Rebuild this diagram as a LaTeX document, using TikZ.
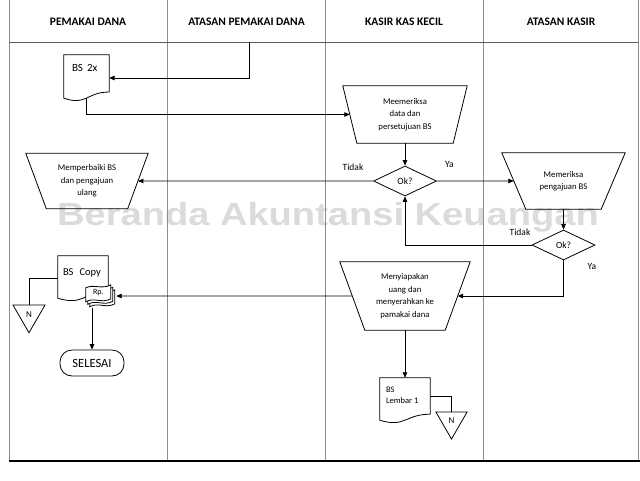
\documentclass[tikz,border=0pt]{standalone}
\usepackage{fontspec}
\setmainfont{Carlito}
\newfontfamily\wmfont{Liberation Sans}
\usetikzlibrary{shapes.geometric,arrows.meta,calc}
\newcommand{\docoutline}[1]{%
  \draw[docline] (#1.north west) -- (#1.north east) -- ($(#1.north east)!0.802!(#1.south east)$) .. controls ($(#1.north)!0.802!(#1.south)$) and ($(#1.north)!1.107!(#1.south)$) .. ($(#1.north west)!0.934!(#1.south west)$) -- cycle;}
\newcommand{\billpath}[2]{%
  \draw[docline, fill=white] (#1,#2+3) .. controls (#1+8,#2-1) and (#1+16,#2+5) .. (#1+25,#2) -- (#1+25,#2+14) .. controls (#1+16,#2+19) and (#1+8,#2+12) .. (#1,#2+17) -- cycle;}
\newcommand{\trapout}[2]{%
  \coordinate (#1-br) at ($(#1.south east)+(-#2pt,0pt)$);
  \coordinate (#1-bl) at ($(#1.south west)+(#2pt,0pt)$);
  \draw[docline] (#1.north west) -- (#1.north east) -- (#1-br) -- (#1-bl) -- cycle;
  \coordinate (#1-R) at ($(#1.north east)!0.5!(#1-br)$);
  \coordinate (#1-L) at ($(#1.north west)!0.5!(#1-bl)$);}
\begin{document}
\begin{tikzpicture}[x=1pt, y=-1pt,
 lane/.style={draw=black!45, line width=0.8pt},
 flow/.style={draw, line width=0.8pt, -{Triangle[length=5.5pt,width=4.5pt]}},
 conn/.style={draw, line width=0.8pt},
 docline/.style={draw, line width=0.8pt},
 hdr/.style={font=\fontsize{11.5}{13}\selectfont\bfseries, inner sep=0pt},
 proc/.style={rectangle, inner sep=0pt, font=\fontsize{8.7}{12.5}\selectfont, align=center},
 dec/.style={diamond, draw, line width=0.8pt, minimum width=63pt, minimum height=30pt, inner sep=0pt, font=\fontsize{9.5}{11}\selectfont},
 lbl/.style={font=\fontsize{9.5}{11}\selectfont, inner sep=0pt},
 tri/.style={regular polygon, regular polygon sides=3, shape border rotate=180, draw, line width=0.8pt, inner sep=0pt, font=\fontsize{9}{10}\selectfont},
 term/.style={rectangle, rounded corners=12pt, draw, line width=0.8pt, minimum width=64pt, minimum height=26pt, font=\fontsize{12.5}{14}\selectfont},
 docbox/.style={rectangle, inner sep=0pt},
 wm/.style={text=black!14, font=\wmfont\bfseries\fontsize{32}{34}\selectfont, inner sep=0pt}
]
\useasboundingbox (0,0) rectangle (640,480);
% watermark
\node[wm] (wm) at (328,217) {\scalebox{1.19}[1]{Beranda Akuntansi Keuangan}};
% lanes
\draw[lane] (9,0) -- (9,461);
\draw[lane] (167,0) -- (167,461);
\draw[lane] (325,0) -- (325,461);
\draw[lane] (483,0) -- (483,461);
\draw[lane] (638,0) -- (638,461);
\draw[draw=black!65, line width=0.8pt] (9,42) -- (638,42);
\draw[black, line width=1.3pt] (9,461) -- (640,461);
% headers
\node[hdr] (h1) at (88,22) {PEMAKAI DANA};
\node[hdr] (h2) at (246.5,22) {ATASAN PEMAKAI DANA};
\node[hdr] (h3) at (404,22) {KASIR KAS KECIL};
\node[hdr] (h4) at (561,22) {ATASAN KASIR};
% BS 2x
\node[docbox] (d1) at (86.5,78) {\parbox[t][46pt][t]{45pt}{\fontsize{11}{13}\selectfont\hspace*{8pt}\rule{0pt}{16.5pt}BS\hspace{4pt}2x}};
\docoutline{d1}
\coordinate (src) at (249,42);
\draw[flow] (src) |- (d1);
% Meemeriksa
\node[proc, minimum width=124pt, minimum height=57pt] (t1) at (405,114.5) {Meemeriksa\\data dan\\persetujuan BS};
\trapout{t1}{14}
\draw[flow] ($(d1.north)!0.933!(d1.south)$) |- (t1-L);
\node[dec] (k1) at (405,181) {Ok?};
\draw[flow] (t1) -- (k1);
\node[proc, minimum width=122pt, minimum height=55pt] (t2) at (87,181) {Memperbaiki BS\\dan pengajuan\\ulang};
\trapout{t2}{20.5}
\node[proc, minimum width=123pt, minimum height=56pt] (t3) at (563.5,181) {Memeriksa\\pengajuan BS};
\trapout{t3}{24}
\draw[flow] (k1) -- (t2-R);
\draw[flow] (k1) -- (t3-L);
\node[lbl] (tidak1) at (353,167) {Tidak};
\node[lbl] (ya1) at (449.5,164) {Ya};
\node[dec] (k2) at (563.5,245) {Ok?};
\draw[flow] (t3) -- (k2);
\node[lbl] (tidak2) at (520,232) {Tidak};
\node[lbl] (ya2) at (592,266) {Ya};
\draw[flow] (k2) -| (k1);
\node[proc, minimum width=130pt, minimum height=68pt] (t4) at (405,296) {Menyiapakan\\uang dan\\menyerahkan ke\\pamakai dana};
\trapout{t4}{25}
\draw[flow] (k2) |- (t4-R);
% BS Copy + Rp
\node[docbox] (d2) at (83,278.5) {\parbox[t][45pt][t]{50pt}{\fontsize{10.5}{12}\selectfont\hspace*{5pt}\rule{0pt}{19.5pt}BS\hspace{6pt}Copy}};
\docoutline{d2}
\node[docbox, minimum width=30pt, minimum height=24pt] (r1) at (101,296) {};
\begin{scope}[shift={(r1.north west)}]
\billpath{4}{6}
\billpath{2}{3.5}
\billpath{0}{1}
\node[font=\fontsize{8}{9}\selectfont, inner sep=0pt] (rp) at (12.5,9) {Rp.};
\end{scope}
\draw[flow] (t4-L) -- (r1);
\node[term] (s1) at (92,363) {SELESAI};
\draw[flow] (s1.north |- r1.south) -- (s1);
\node[tri, minimum size=37pt] (n1) at (29,314.25) {N};
\draw[conn] (d2.west) -| (n1);
% BS Lembar 1
\node[docbox] (d3) at (405,400.5) {\parbox[t][45pt][t]{50pt}{\fontsize{8.5}{11}\selectfont\hspace*{6pt}\rule{0pt}{14pt}BS\\\hspace*{6pt}Lembar 1}};
\docoutline{d3}
\draw[flow] (t4) -- (d3);
\node[tri, minimum size=36pt] (n2) at (451.5,421) {N};
\draw[conn] ($(d3.north east)!0.42!(d3.south east)$) -| (n2);
\end{tikzpicture}
\end{document}
